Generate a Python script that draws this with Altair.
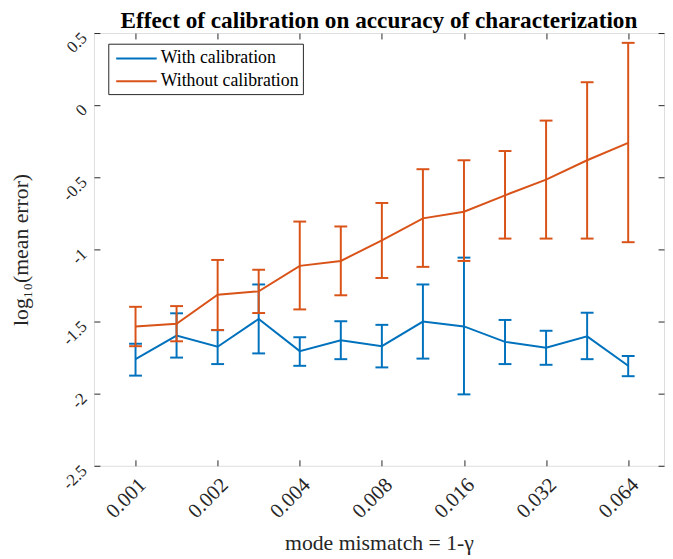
import altair as alt
import pandas as pd

# ---- data ----
x_vals = [0.001, 0.001414, 0.002, 0.002828, 0.004, 0.005657, 0.008,
          0.011314, 0.016, 0.022627, 0.032, 0.045255, 0.064]

with_mean = [-1.761, -1.598, -1.675, -1.482, -1.705, -1.630, -1.671,
             -1.500, -1.534, -1.641, -1.682, -1.603, -1.807]
with_lo = [-1.875, -1.750, -1.795, -1.721, -1.807, -1.761, -1.818,
           -1.757, -2.005, -1.795, -1.800, -1.761, -1.879]
with_hi = [-1.654, -1.443, -1.560, -1.243, -1.609, -1.498, -1.523,
           -1.243, -1.057, -1.489, -1.564, -1.439, -1.739]

without_mean = [-1.534, -1.516, -1.314, -1.291, -1.114, -1.080, -0.937,
                -0.785, -0.739, -0.625, -0.516, -0.382, -0.262]
without_lo = [-1.671, -1.637, -1.559, -1.441, -1.416, -1.318, -1.198,
              -1.121, -1.080, -0.925, -0.925, -0.925, -0.950]
without_hi = [-1.398, -1.393, -1.073, -1.141, -0.807, -0.841, -0.678,
              -0.444, -0.382, -0.318, -0.107, 0.159, 0.432]

series_names = ["With calibration", "Without calibration"]
colors = ["#0072BD", "#D95319"]
x_ticks = [0.001, 0.002, 0.004, 0.008, 0.016, 0.032, 0.064]
y_ticks = [-2.5, -2, -1.5, -1, -0.5, 0, 0.5]

FONT = "Liberation Serif"
INK = "#262626"


def frame(name, mean, lo, hi):
    return pd.DataFrame({"x": x_vals, "mean": mean, "lo": lo, "hi": hi,
                         "series": name})


frames = [frame(series_names[0], with_mean, with_lo, with_hi),
          frame(series_names[1], without_mean, without_lo, without_hi)]

xscale = alt.Scale(type="log", domain=[0.000704, 0.0866], nice=False)
yscale = alt.Scale(domain=[-2.5, 0.5], nice=False, zero=False)
cscale = alt.Scale(domain=series_names, range=colors)

common = dict(domain=False, grid=False, tickSize=6, offset=-6,
              tickColor=INK, tickWidth=1, labelFont=FONT, labelColor=INK,
              titleFont=FONT, titleColor=INK, titleFontWeight="normal",
              labelOverlap=False, labelFlush=False, labelBound=False)

x_bottom = alt.Axis(values=x_ticks, labelExpr="toString(datum.value)",
                    labelAngle=-45, labelAlign="right", labelBaseline="middle",
                    labelPadding=16, labelOffset=7, labelFontSize=21,
                    title="mode mismatch = 1-γ", titleFontSize=22,
                    titleBaseline="alphabetic", titleY=91, **common)
y_left = alt.Axis(values=y_ticks, labelExpr="toString(datum.value)",
                  labelAngle=-45, labelAlign="right", labelBaseline="middle",
                  labelPadding=10, labelOffset=2, labelFontSize=17,
                  title="log₁₀(mean error)", titleFontSize=22,
                  titleBaseline="alphabetic", titleX=-73, **common)
x_top = alt.Axis(values=x_ticks, orient="top", labels=False, title=None,
                 **common)
y_right = alt.Axis(values=y_ticks, orient="right", labels=False, title=None,
                   **common)

legend = alt.Legend(orient="none", legendX=14.5, legendY=10.8, title=None,
                    symbolType="M-0.7,0H3.4", symbolSize=400,
                    symbolStrokeWidth=2, labelFont=FONT, labelFontSize=18,
                    labelColor="black", labelOffset=27, rowPadding=3,
                    padding=4, strokeColor=INK, fillColor="white",
                    labelLimit=0)

layers = []
for i, (df, col) in enumerate(zip(frames, colors)):
    base = alt.Chart(df)
    xa = x_bottom if i == 0 else None
    ya = y_left if i == 0 else None
    line = base.mark_line(strokeWidth=2).encode(
        x=alt.X("x:Q", scale=xscale, axis=xa),
        y=alt.Y("mean:Q", scale=yscale, axis=ya),
        color=alt.Color("series:N", scale=cscale, legend=legend),
    )
    rule = base.mark_rule(strokeWidth=2, color=col).encode(
        x=alt.X("x:Q", scale=xscale, axis=(x_top if i == 0 else None)),
        y=alt.Y("lo:Q", scale=yscale, axis=(y_right if i == 0 else None)),
        y2="hi:Q",
    )
    cap_lo = base.mark_tick(orient="horizontal", size=13, thickness=2,
                            opacity=1, color=col).encode(
        x=alt.X("x:Q", scale=xscale, axis=None),
        y=alt.Y("lo:Q", scale=yscale, axis=None),
    )
    cap_hi = base.mark_tick(orient="horizontal", size=13, thickness=2,
                            opacity=1, color=col).encode(
        x=alt.X("x:Q", scale=xscale, axis=None),
        y=alt.Y("hi:Q", scale=yscale, axis=None),
    )
    layers += [line, rule, cap_lo, cap_hi]

chart = alt.layer(*layers).resolve_axis(
    x="independent", y="independent"
).properties(
    width=577,
    height=438,
    title=alt.TitleParams(
        "Effect of calibration on accuracy of characterization",
        font=FONT, fontSize=23.5, fontWeight="bold", color="black",
        anchor="middle", offset=-4, frame="group",
    ),
    autosize=alt.AutoSizeParams(type="none"),
    padding={"left": 87, "top": 22, "right": 1, "bottom": 90},
).configure_view(
    stroke=INK, strokeWidth=1
).configure(background="white")

chart.save("out.html", embed_options={"renderer": "svg", "actions": False})
